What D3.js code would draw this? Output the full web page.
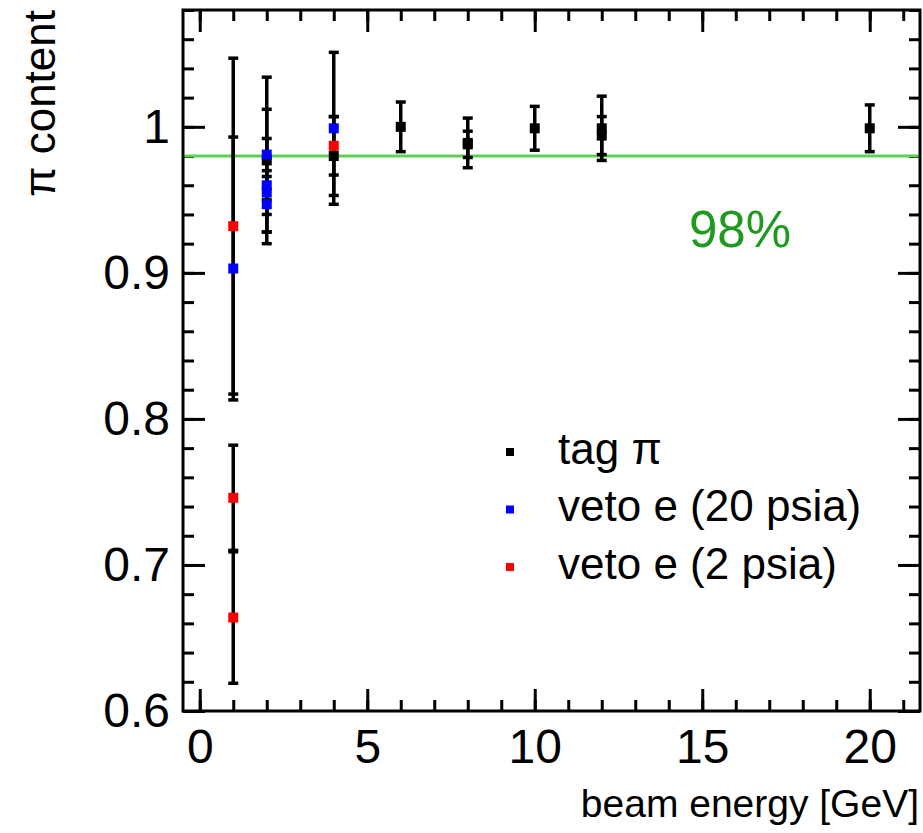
<!DOCTYPE html>
<html><head><meta charset="utf-8">
<script src="https://cdn.jsdelivr.net/npm/d3@7"></script>
<style>body{margin:0;background:#fff}svg{display:block}text{font-family:"Liberation Sans",Arial,sans-serif}</style>
</head><body><svg id="c" width="923" height="833"></svg>
<script>
// ---- data ----
const tagX   = [2, 4, 6, 8, 8, 10, 12, 12, 20];
const tagY   = [0.977, 0.980, 1.000, 0.989, 0.988, 0.999, 0.999, 0.994, 0.999];
const tagErr = [0.057, 0.027, 0.017, 0.017, 0.009, 0.015, 0.022, 0.013, 0.016];

const veto20X   = [1, 2, 2, 2, 2, 4];
const veto20Y   = [0.903, 0.981, 0.960, 0.955, 0.947, 0.999];
const veto20Err = [0.090, 0.031, 0.032, 0.015, 0.019, 0.052];

const veto2X   = [1, 1, 1, 4];
const veto2Y   = [0.932, 0.746, 0.664, 0.987];
const veto2Err = [0.115, 0.036, 0.045, 0.020];

const thresholdValue = 0.98;
const thresholdLabel = "98%";
const xMajorTicks = [0, 5, 10, 15, 20];
const yMajorTicks = [0.6, 0.7, 0.8, 0.9, 1.0];
const seriesNames = ["tag \u03c0", "veto e (20 psia)", "veto e (2 psia)"];
const seriesColors = ["#000000", "#0000ff", "#ff0000"];

// ---- layout ----
const W = 923, H = 833;
const m = {left: 183, right: 3, top: 10, bottom: 122};
const svg = d3.select("#c");
const x = d3.scaleLinear().domain([-0.5, 21.5]).range([m.left, W - m.right]);
const y = d3.scaleLinear().domain([0.6, 1.08]).range([H - m.bottom, m.top]);

const xMinor = d3.range(0, 22, 1);
const yMinor = d3.range(0, 25).map(i => +(0.6 + i * 0.02).toFixed(2));

function axis(gen, ticks, size, fmt, tr) {
  const g = svg.append("g").attr("transform", tr)
    .call(gen.tickValues(ticks).tickSize(size).tickPadding(13).tickFormat(fmt));
  g.select(".domain").remove();
  g.selectAll(".tick line").attr("stroke", "#000").attr("stroke-width", 3);
  return g;
}
const bottomT = `translate(0,${H - m.bottom})`, topT = `translate(0,${m.top})`;
const leftT = `translate(${m.left},0)`, rightT = `translate(${W - m.right},0)`;
// minor ticks
axis(d3.axisBottom(x), xMinor, -11, () => "", bottomT);
axis(d3.axisTop(x), xMinor, -11, () => "", topT);
axis(d3.axisLeft(y), yMinor, -11, () => "", leftT);
axis(d3.axisRight(y), yMinor, -11, () => "", rightT);
// major ticks
const gx = axis(d3.axisBottom(x), xMajorTicks, -22, d3.format("d"), bottomT);
axis(d3.axisTop(x), xMajorTicks, -22, () => "", topT);
const gy = axis(d3.axisLeft(y), yMajorTicks, -22, d => d === 1 ? "1" : d3.format(".1f")(d), leftT);
axis(d3.axisRight(y), yMajorTicks, -22, () => "", rightT);
gx.selectAll("text").attr("font-size", 48).attr("fill", "#000").attr("dy", "0.82em");
gy.selectAll("text").attr("font-size", 48).attr("fill", "#000");

// frame
svg.append("rect").attr("x", m.left).attr("y", m.top)
  .attr("width", W - m.right - m.left).attr("height", H - m.bottom - m.top)
  .attr("fill", "none").attr("stroke", "#000").attr("stroke-width", 3);

// threshold line
svg.append("line").attr("x1", m.left + 1.5).attr("x2", W - m.right - 1.5)
  .attr("y1", y(thresholdValue)).attr("y2", y(thresholdValue))
  .attr("stroke", "#5fd050").attr("stroke-width", 3);
svg.append("text").attr("x", 689).attr("y", 234).attr("font-size", 51)
  .attr("fill", "#1f9a1f").attr("dominant-baseline", "middle").text(thresholdLabel);

// series
const series = [
  {xs: tagX, ys: tagY, es: tagErr, c: seriesColors[0]},
  {xs: veto20X, ys: veto20Y, es: veto20Err, c: seriesColors[1]},
  {xs: veto2X, ys: veto2Y, es: veto2Err, c: seriesColors[2]}
];
const eg = svg.append("g");
series.forEach(s => {
  s.xs.forEach((xv, i) => {
    const px = x(xv), top = y(s.ys[i] + s.es[i]), bot = y(s.ys[i] - s.es[i]);
    eg.append("line").attr("x1", px).attr("x2", px).attr("y1", top).attr("y2", bot)
      .attr("stroke", "#000").attr("stroke-width", 3.5);
    [top, bot].forEach(py => eg.append("line").attr("x1", px - 5).attr("x2", px + 5)
      .attr("y1", py).attr("y2", py).attr("stroke", "#000").attr("stroke-width", 3.5));
  });
});
const mg = svg.append("g");
series.forEach(s => {
  s.xs.forEach((xv, i) => {
    mg.append("rect").attr("x", x(xv) - 5).attr("y", y(s.ys[i]) - 5)
      .attr("width", 10).attr("height", 10).attr("fill", s.c);
  });
});

// legend
const lg = svg.append("g");
seriesNames.forEach((n, i) => {
  const ly = 452 + i * 57.5;
  lg.append("rect").attr("x", 506).attr("y", ly - 4).attr("width", 8).attr("height", 8).attr("fill", seriesColors[i]);
  lg.append("text").attr("x", 558).attr("y", ly).attr("font-size", 44)
    .attr("dominant-baseline", "middle").attr("fill", "#000").text(n);
});

// axis titles
svg.append("text").attr("x", W - 4).attr("y", 817).attr("text-anchor", "end")
  .attr("font-size", 39).attr("fill", "#000").text("beam energy [GeV]");
svg.append("text").attr("transform", `translate(55,${m.top}) rotate(-90)`)
  .attr("text-anchor", "end").attr("font-size", 44).attr("fill", "#000").text("\u03c0 content");
</script></body></html>
